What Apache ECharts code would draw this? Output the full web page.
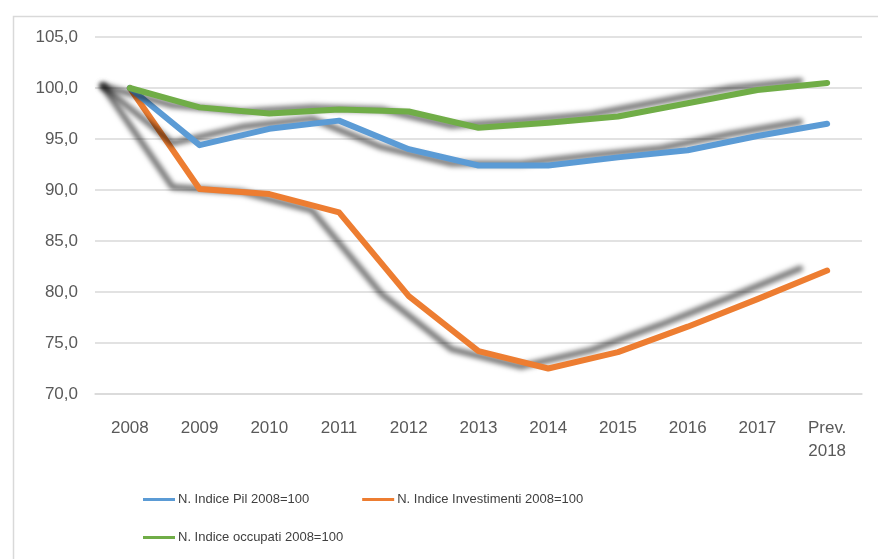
<!DOCTYPE html>
<html>
<head>
<meta charset="utf-8">
<script src="https://cdn.jsdelivr.net/npm/echarts@6/dist/echarts.min.js"></script>
<style>
html,body{margin:0;padding:0;background:#fff;}
#c{width:878px;height:559px;}
</style>
</head>
<body>
<div id="c"></div>
<script>
var categories = ['2008','2009','2010','2011','2012','2013','2014','2015','2016','2017','Prev.\n2018'];
var pil = [100, 94.4, 96.0, 96.8, 94.0, 92.4, 92.4, 93.2, 93.9, 95.3, 96.5];
var investimenti = [100, 90.1, 89.6, 87.8, 79.6, 74.2, 72.5, 74.1, 76.6, 79.3, 82.1];
var occupati = [100, 98.1, 97.5, 97.9, 97.7, 96.1, 96.6, 97.2, 98.5, 99.8, 100.5];
var seriesNames = ['N. Indice Pil 2008=100', 'N. Indice Investimenti 2008=100', 'N. Indice occupati 2008=100'];
var colors = ['#5B9BD5', '#ED7D31', '#70AD47'];

var font = 'Liberation Sans';
var chart = echarts.init(document.getElementById('c'), null, {renderer: 'canvas'});

function mk(name, data, color, z) {
  return {
    name: name, type: 'line', data: data, symbol: 'none', z: z,
    color: color,
    lineStyle: {
      width: 6, color: color, cap: 'round', join: 'round',
      shadowColor: 'rgba(0,0,0,0.55)', shadowBlur: 5,
      shadowOffsetX: -27, shadowOffsetY: -2
    },
    emphasis: {disabled: true},
    animation: false
  };
}

chart.setOption({
  backgroundColor: '#fff',
  animation: false,
  graphic: [{
    type: 'rect', left: 11, top: 14, z: -10,
    shape: {width: 900, height: 600},
    style: {fill: 'none', stroke: '#d9d9d9', lineWidth: 1.5}
  }],
  grid: {left: 95, right: 16, top: 37, bottom: 165},
  legend: [{
    data: [seriesNames[0], seriesNames[1]],
    left: 138, top: 488, itemWidth: 32, itemHeight: 3, itemGap: 53,
    icon: 'rect',
    textStyle: {fontFamily: font, fontSize: 13, color: '#404040', padding: [0,0,0,-2]}
  }, {
    data: [seriesNames[2]],
    left: 138, top: 526, itemWidth: 32, itemHeight: 3,
    icon: 'rect',
    textStyle: {fontFamily: font, fontSize: 13, color: '#404040', padding: [0,0,0,-2]}
  }],
  xAxis: {
    type: 'category', data: categories, boundaryGap: true,
    axisLine: {show: true, lineStyle: {color: '#d9d9d9', width: 1.5}},
    axisTick: {show: false},
    axisLabel: {fontFamily: font, fontSize: 17, color: '#595959', margin: 23, lineHeight: 23, interval: 0}
  },
  yAxis: {
    type: 'value', min: 70, max: 105, interval: 5,
    axisLine: {show: false}, axisTick: {show: false},
    splitLine: {lineStyle: {color: '#d9d9d9', width: 1.5}},
    axisLabel: {fontFamily: font, fontSize: 17, color: '#595959', margin: 17,
      formatter: function(v){ return v.toFixed(1).replace('.', ','); }}
  },
  series: [
    mk(seriesNames[0], pil, colors[0], 3),
    mk(seriesNames[1], investimenti, colors[1], 2),
    mk(seriesNames[2], occupati, colors[2], 4)
  ]
});
</script>
</body>
</html>
